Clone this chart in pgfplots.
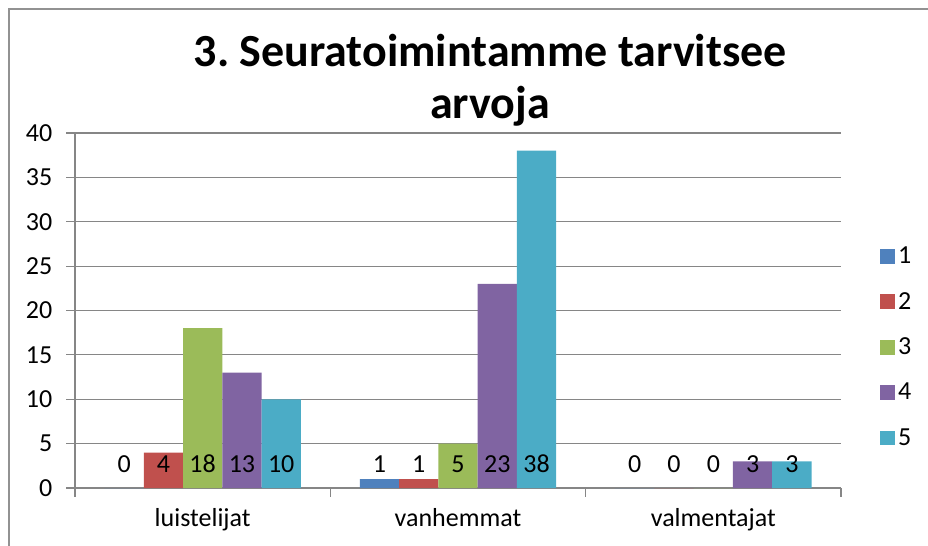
\documentclass[border=0pt]{standalone}
\usepackage{pgfplots}
\pgfplotsset{compat=1.18}
\usepackage{pgfplotstable}
\usepackage{fontspec}
\setmainfont{Carlito}
\frenchspacing
\definecolor{s1}{HTML}{4F81BD}
\definecolor{s2}{HTML}{C0504D}
\definecolor{s3}{HTML}{9BBB59}
\definecolor{s4}{HTML}{8064A2}
\definecolor{s5}{HTML}{4BACC6}
\definecolor{gridc}{RGB}{134,134,134}
\pgfplotstableread{
x s1 s2 s3 s4 s5
0 0 4 18 13 10
1 1 1 5 23 38
2 0 0 0 3 3
}\datatable
\begin{document}
\begin{tikzpicture}[x=1pt,y=1pt]
\useasboundingbox (-56.25,-43.5) rectangle (639.75,366);
\draw[gridc!90, line width=1.6pt] (-49.5,-60) -- (-49.5,359.25) -- (660,359.25);
\begin{axis}[
 at={(0,0)}, anchor=south west,
 scale only axis, width=574.5pt, height=266.25pt,
 ybar=0pt, bar width=29.45pt,
 xmin=-0.5, xmax=2.5, ymin=0, ymax=40,
 ytick={0,5,...,40},
 xtick={-0.5,0.5,1.5,2.5}, xticklabels={},
 extra x ticks={0,1,2},
 extra x tick labels={luistelijat,vanhemmat,valmentajat},
 extra x tick style={major tick length=0pt, grid=none, xticklabel style={yshift=-12pt}},
 axis x line*=bottom, axis y line*=left,
 axis line style={gridc, line width=0.8pt, -},
 ymajorgrids, grid style={gridc, line width=0.8pt},
 tick align=outside, major tick length=6.5pt,
 tick style={gridc, line width=0.8pt},
 tick label style={font=\fontsize{19.5}{22}\selectfont, text=black},
 yticklabel style={xshift=-7pt},
 /pgf/number format/assume math mode=true,
 nodes near coords,
 visualization depends on={y \as \rawy},
 every node near coord/.append style={anchor=center, yshift={18pt-\rawy*6.65625pt}, font=\fontsize{19.5}{22}\selectfont, text=black},
 title={3. Seuratoimintamme tarvitsee\\arvoja},
 title style={font=\bfseries\fontsize{34.5}{39}\selectfont, align=center, at={(axis description cs:0.542,1)}, anchor=south, inner sep=0pt, yshift=-1pt},
 legend style={at={(axis description cs:1.051,0.397)}, anchor=west, draw=none, fill=none, font=\fontsize{19.5}{22}\selectfont, row sep=16pt, inner sep=0pt},
 legend cell align=left,
 legend image code/.code={\fill[#1] (0pt,-5.6pt) rectangle (11.25pt,5.6pt);},
]
\addplot[fill=s1, draw=none] table[x=x, y=s1] {\datatable};
\addplot[fill=s2, draw=none] table[x=x, y=s2] {\datatable};
\addplot[fill=s3, draw=none] table[x=x, y=s3] {\datatable};
\addplot[fill=s4, draw=none] table[x=x, y=s4] {\datatable};
\addplot[fill=s5, draw=none] table[x=x, y=s5] {\datatable};
\legend{1,2,3,4,5}
\end{axis}
\end{tikzpicture}
\end{document}
